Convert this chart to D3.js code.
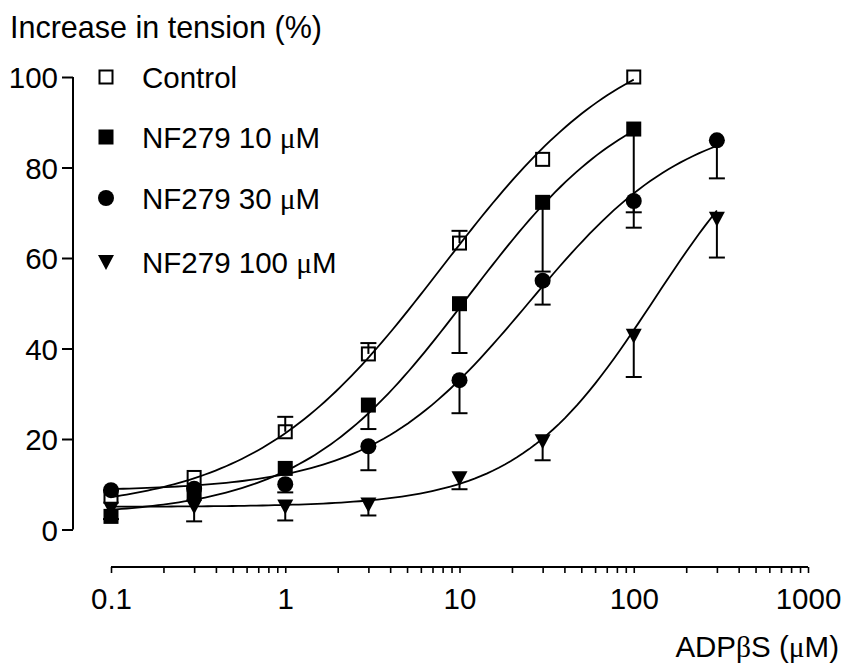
<!DOCTYPE html>
<html>
<head>
<meta charset="utf-8">
<script src="https://cdn.jsdelivr.net/npm/d3@7"></script>
<style>
  html, body { margin: 0; padding: 0; background: #fff; }
  svg { display: block; }
  text { font-family: "Liberation Sans", Arial, Helvetica, sans-serif; fill: #000; }
  .sym { font-family: "Liberation Serif", "Times New Roman", serif; }
</style>
</head>
<body>
<svg id="chart" width="843" height="664"></svg>
<script>
// ADPβS concentrations (µM)
const doses = [0.1, 0.3, 1, 3, 10, 30, 100, 300];

// Mean increase in tension (%) per group
const controlMean = [7.3, 11.5, 21.6, 38.8, 63.3, 81.8, 100];
const nf10Mean    = [2.9, 8.0, 13.5, 27.5, 49.9, 72.3, 88.5];
const nf30Mean    = [8.7, 9.0, 10.0, 18.4, 33.0, 55.0, 72.6, 86.0];
const nf100Mean   = [4.6, 5.1, 5.1, 5.5, 11.3, 19.5, 42.8, 68.7];

// SEM shown as one-sided bars (control upward, antagonist groups downward)
const controlSem = [0, 0, 3.3, 2.4, 2.7, 0, 0];
const nf10Sem    = [0.6, 0, 0, 5.3, 10.9, 15.3, 18.4];
const nf30Sem    = [0, 0, 1.8, 5.3, 7.3, 5.3, 5.9, 8.4];
const nf100Sem   = [0, 3.3, 3.1, 2.4, 2.4, 4.2, 9.1, 8.6];

// Sigmoidal fit parameters: [bottom, top, logEC50, Hill slope]
const controlFit = [4, 112, 0.90, 0.80];
const nf10Fit    = [3, 100, 1.05, 0.90];
const nf30Fit    = [8.5, 92, 1.40, 0.95];
const nf100Fit   = [5, 97, 2.12, 1.1];

const legendLabels = ["Control", "NF279 10 ", "NF279 30 ", "NF279 100 "];
const xTickValues = [0.1, 1, 10, 100, 1000];
const yTickValues = [0, 20, 40, 60, 80, 100];

const series = [
  { name: legendLabels[0], mean: controlMean, sem: controlSem, fit: controlFit, shape: "openSquare", dir: 1 },
  { name: legendLabels[1], mean: nf10Mean, sem: nf10Sem, fit: nf10Fit, shape: "square", dir: -1 },
  { name: legendLabels[2], mean: nf30Mean, sem: nf30Sem, fit: nf30Fit, shape: "circle", dir: -1 },
  { name: legendLabels[3], mean: nf100Mean, sem: nf100Sem, fit: nf100Fit, shape: "triangle", dir: -1 }
];

const FONT = "29.5px";
const svg = d3.select("#chart");

const x = d3.scaleLog().domain([0.1, 1000]).range([111, 808]);
const y = d3.scaleLinear().domain([0, 100]).range([529.5, 77]);

// Y axis
const yAxis = d3.axisLeft(y).tickValues(yTickValues).tickSize(11).tickPadding(4).tickSizeOuter(0);
const gy = svg.append("g").attr("transform", "translate(73,0)").call(yAxis);
gy.select(".domain").attr("stroke-width", 2).attr("d", `M0,${y(100)}V${y(0)}`);
gy.selectAll(".tick line").attr("stroke-width", 2);
gy.selectAll(".tick text").style("font-size", FONT).attr("dy", "0.36em");

// X axis with log minor ticks
const minorTicks = [];
for (let e = -1; e < 3; e++) {
  for (let m = 1; m < 10; m++) minorTicks.push(m * Math.pow(10, e));
}
minorTicks.push(1000);
const xAxis = d3.axisBottom(x).tickValues(minorTicks).tickSize(6).tickSizeOuter(0)
  .tickFormat(d => xTickValues.includes(d) ? d3.format("~g")(d) : "");
const gx = svg.append("g").attr("transform", "translate(0,567)").call(xAxis);
gx.select(".domain").attr("stroke-width", 2).attr("d", `M${x(0.1)},0H${x(1000)}`);
gx.selectAll(".tick line").attr("stroke-width", 1.6);
gx.selectAll(".tick text").style("font-size", FONT).attr("y", 21).attr("dy", "0.71em");

// Axis titles
svg.append("text").attr("x", 10).attr("y", 38).style("font-size", "30.5px")
  .text("Increase in tension (%)");
const xt = svg.append("text").attr("x", 839).attr("y", 657).attr("text-anchor", "end").style("font-size", FONT);
xt.append("tspan").text("ADP");
xt.append("tspan").attr("class", "sym").text("β");
xt.append("tspan").text("S (");
xt.append("tspan").attr("class", "sym").text("μ");
xt.append("tspan").text("M)");

// Marker drawing
const markerSize = 15;
function drawMarker(g, shape, cx, cy) {
  const h = markerSize / 2;
  if (shape === "openSquare") {
    g.append("rect").attr("x", cx - h + 1).attr("y", cy - h + 1)
      .attr("width", markerSize - 2).attr("height", markerSize - 2)
      .attr("fill", "none").attr("stroke", "#000").attr("stroke-width", 2);
  } else if (shape === "square") {
    g.append("rect").attr("x", cx - h).attr("y", cy - h)
      .attr("width", markerSize).attr("height", markerSize).attr("fill", "#000");
  } else if (shape === "circle") {
    g.append("circle").attr("cx", cx).attr("cy", cy).attr("r", 8).attr("fill", "#000");
  } else if (shape === "triangle") {
    g.append("path")
      .attr("d", `M${cx - 8},${cy - 7}L${cx + 8},${cy - 7}L${cx},${cy + 8}Z`)
      .attr("fill", "#000");
  }
}

// Hill equation for fitted curves
function hill(p, dose) {
  const [bottom, top, logEC50, slope] = p;
  return bottom + (top - bottom) / (1 + Math.pow(10, (logEC50 - Math.log10(dose)) * slope));
}

const line = d3.line().x(d => x(d[0])).y(d => y(d[1]));

// Error bars
const gErr = svg.append("g");
series.forEach(s => {
  s.mean.forEach((m, i) => {
    const e = s.sem[i];
    if (!e) return;
    const cx = x(doses[i]);
    const end = m + s.dir * e;
    gErr.append("line").attr("x1", cx).attr("x2", cx).attr("y1", y(m)).attr("y2", y(end))
      .attr("stroke", "#000").attr("stroke-width", 2);
    gErr.append("line").attr("x1", cx - 8).attr("x2", cx + 8).attr("y1", y(end)).attr("y2", y(end))
      .attr("stroke", "#000").attr("stroke-width", 2);
  });
});

// Fitted curves
const gCurves = svg.append("g");
series.forEach(s => {
  const lo = Math.log10(doses[0]);
  const hi = Math.log10(doses[s.mean.length - 1]);
  const pts = d3.range(0, 101).map(k => {
    const d = Math.pow(10, lo + (hi - lo) * k / 100);
    return [d, hill(s.fit, d)];
  });
  gCurves.append("path").attr("d", line(pts)).attr("fill", "none")
    .attr("stroke", "#000").attr("stroke-width", 1.8);
});

// Data markers (drawn last-to-first so control sits on top)
const gMarks = svg.append("g");
series.slice().reverse().forEach(s => {
  s.mean.forEach((m, i) => drawMarker(gMarks, s.shape, x(doses[i]), y(m)));
});

// Legend
const legendY = [77, 137, 198, 262];
const gLeg = svg.append("g");
series.forEach((s, i) => {
  drawMarker(gLeg, s.shape, 106, legendY[i]);
  const t = gLeg.append("text").attr("x", 142).attr("y", legendY[i]).attr("dy", "0.36em")
    .style("font-size", FONT);
  t.append("tspan").text(s.name);
  if (i > 0) {
    t.append("tspan").attr("class", "sym").text("μ");
    t.append("tspan").text("M");
  }
});
</script>
</body>
</html>
